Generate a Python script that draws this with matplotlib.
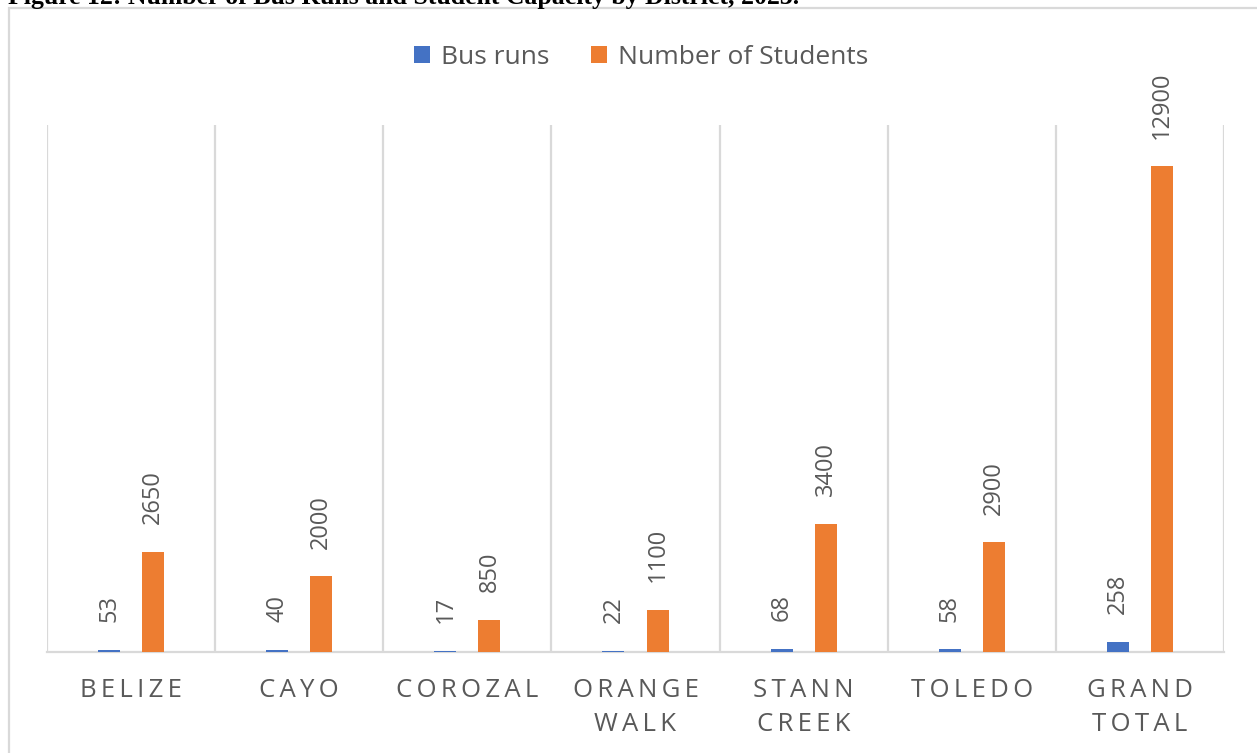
import matplotlib
matplotlib.use("Agg")
import matplotlib.pyplot as plt
import numpy as np
from matplotlib.patches import Rectangle

# data
districts = ["BELIZE", "CAYO", "COROZAL", "ORANGE\nWALK", "STANN\nCREEK", "TOLEDO", "GRAND\nTOTAL"]
bus_runs = [53, 40, 17, 22, 68, 58, 258]
students = [2650, 2000, 850, 1100, 3400, 2900, 12900]
series_names = ["Bus runs", "Number of Students"]
title = "Figure 12: Number of Bus Runs and Student Capacity by District, 2023."

BLUE = "#4472C4"
ORANGE = "#ED7D31"
GRAY_TXT = "#595959"
GRID = "#D9D9D9"

plt.rcParams['font.family'] = ['Open Sans', 'DejaVu Sans']


def spaced(label):
    # mimic the wide letter spacing of the original axis labels
    return "\n".join("\u2006".join(line) for line in label.split("\n"))


W, H = 1257, 753
fig = plt.figure(figsize=(W / 100, H / 100), dpi=100)
fig.patch.set_facecolor("white")

# chart area border (runs off the right/bottom edge)
fig.add_artist(Rectangle((9 / W, -0.2), 1.2, 1.2 - 8 / H, transform=fig.transFigure,
                         fill=False, edgecolor=GRID, linewidth=1.6))

# caption at the very top, cut off by the page edge as in the source
fig.text(8 / W, 1 - 4 / H, title, family="Liberation Serif", fontweight="bold",
         fontsize=18.5, va="baseline", ha="left", color="black")

ax = fig.add_axes([47 / W, 1 - 651.5 / H, (1224 - 47) / W, (651.5 - 125) / H])

x = np.arange(len(districts))
w = 0.131
b1 = ax.bar(x - w, bus_runs, width=w, color=BLUE, label=series_names[0], zorder=3)
b2 = ax.bar(x + w, students, width=w, color=ORANGE, label=series_names[1], zorder=3)

for bars, vals in ((b1, bus_runs), (b2, students)):
    for rect, v in zip(bars, vals):
        ax.annotate(str(v), (rect.get_x() + rect.get_width() / 2, v),
                    xytext=(0, 20), textcoords="offset points", rotation=90,
                    ha="center", va="bottom", fontsize=17, color=GRAY_TXT)

ax.set_xlim(-0.5, len(districts) - 0.5)
ax.set_ylim(0, 14000)
for b in np.arange(-0.5, len(districts), 1.0):
    ax.axvline(b, color=GRID, linewidth=1.6, zorder=1)

for s in ("top", "right", "left"):
    ax.spines[s].set_visible(False)
ax.spines["bottom"].set_color(GRID)
ax.spines["bottom"].set_linewidth(1.6)
ax.set_yticks([])
ax.set_xticks(x)
ax.set_xticklabels([spaced(d) for d in districts], fontsize=18.5, color=GRAY_TXT,
                   linespacing=1.5)
ax.tick_params(axis="x", length=0, pad=19)

fig.legend(handles=[b1, b2], labels=series_names, loc="center",
           bbox_to_anchor=(641 / W, 1 - 57 / H), ncol=2, frameon=False,
           fontsize=19, labelcolor=GRAY_TXT, handlelength=0.6, handleheight=0.6,
           handletextpad=0.4, columnspacing=1.6)

fig.savefig("out.png", dpi=100)
